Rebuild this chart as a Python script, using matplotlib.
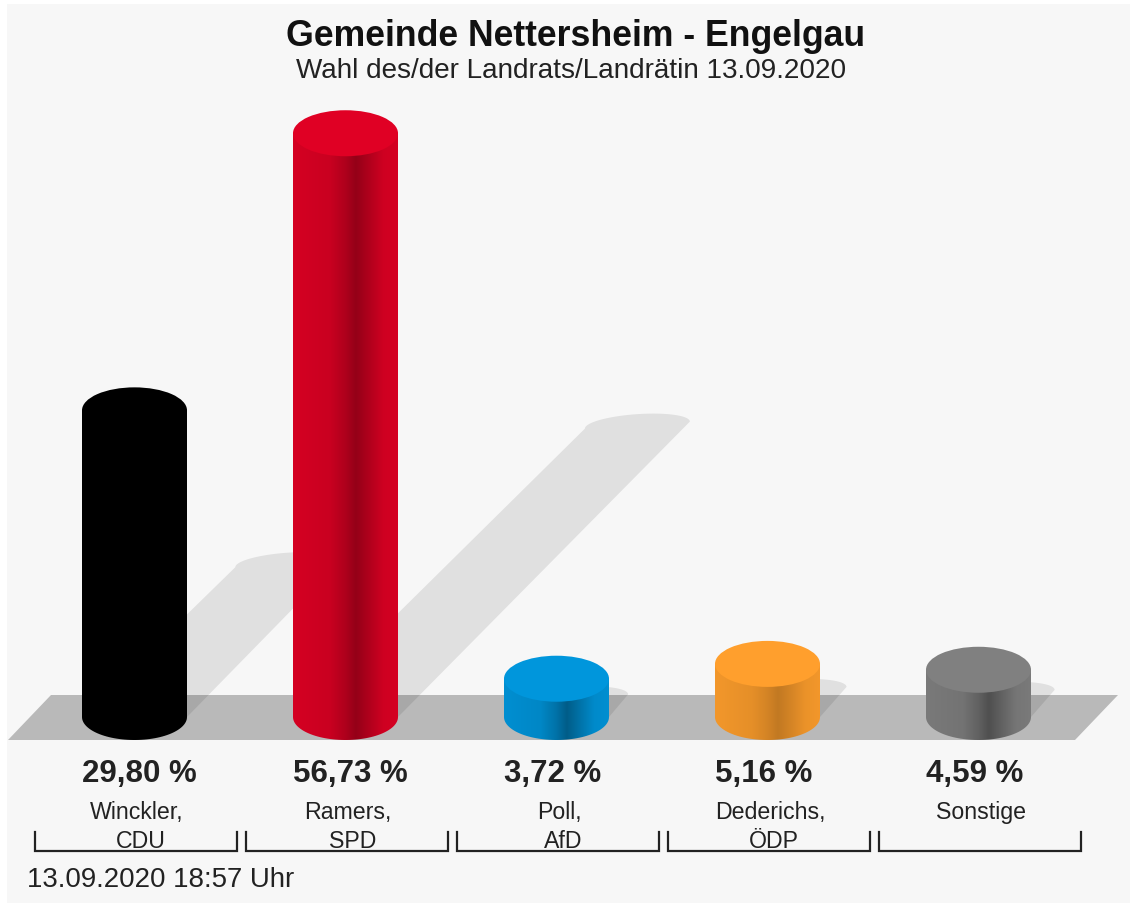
import numpy as np
import matplotlib
matplotlib.use("Agg")
import matplotlib.pyplot as plt
from matplotlib.colors import LinearSegmentedColormap, to_rgb
from matplotlib.patches import Polygon, Ellipse, PathPatch, Rectangle
from matplotlib.path import Path

title = "Gemeinde Nettersheim - Engelgau"
subtitle = "Wahl des/der Landrats/Landrätin 13.09.2020"
footer = "13.09.2020 18:57 Uhr"
names = ["Winckler,\nCDU", "Ramers,\nSPD", "Poll,\nAfD", "Dederichs,\nÖDP", "Sonstige\n"]
values = [29.80, 56.73, 3.72, 5.16, 4.59]
value_labels = ["29,80 %", "56,73 %", "3,72 %", "5,16 %", "4,59 %"]
top_colors = ["#000000", "#e00024", "#0096dc", "#ff9f2d", "#808080"]
dark_factors = [1.0, 0.66, 0.62, 0.76, 0.62]

W, H = 1133, 906
X0, DX, Y0, DY = 134.5, 211.0, 717.0, 10.29
plt.rcParams['font.family'] = ['Liberation Sans', 'DejaVu Sans']

fig = plt.figure(figsize=(W / 100, H / 100), dpi=100, facecolor="white")
ax = fig.add_axes([0, 0, 1, 1])
ax.axis("off")
xlim = ((0 - X0) / DX, (W - X0) / DX)
ylim = ((Y0 - H) / DY, Y0 / DY)


def px(x):
    return (x - X0) / DX


def py(y):
    return (Y0 - y) / DY


bw = 52.5 / DX          # half width of a column, in category units
eh = 23.0 / DY          # half height of the ellipse, in percent units
sh = 11.0 / DY          # half height of the shadow's cap
tilt = 3.5 / DY         # the shadow's cap rises slightly to the right

# panel
ax.add_patch(Rectangle((px(7), py(903)), px(1130) - px(7), py(4) - py(903), fc="#f7f7f7", ec="none", zorder=0))

# floor
ax.add_patch(Polygon([(px(8), py(740)), (px(51), py(695)), (px(1118), py(695)), (px(1075), py(740))],
                     closed=True, fc="#b9b9b9", ec="none", zorder=1))

# shadows
t = np.linspace(np.pi, 0, 60)
for i, v in enumerate(values):
    # a column's shadow leans right at 45 degrees and has half its height
    ox = (v * DY / 2) / DX
    oy = v / 2
    arc = np.column_stack([i + ox + bw * np.cos(t), oy + sh * np.sin(t) + tilt * np.cos(t)])
    pts = np.vstack([[i - bw, 0], arc, [i + bw, 0]])
    ax.add_patch(Polygon(pts, closed=True, fc="black", ec="none", alpha=0.09, zorder=2))

# columns
t2 = np.linspace(0, np.pi, 60)
for i, (v, c, d) in enumerate(zip(values, top_colors, dark_factors)):
    rgb = np.array(to_rgb(c))
    stops = [(0.0, 0.95), (0.35, 0.9), (0.5, (0.9 + d) / 2), (0.6, d), (0.72, (0.9 + d) / 2), (0.86, 0.92), (1.0, 0.95)]
    cmap = LinearSegmentedColormap.from_list("c", [(p, tuple(rgb * f)) for p, f in stops])
    im = ax.imshow(np.linspace(0, 1, 256)[None, :], extent=(i - bw, i + bw, -eh, v), cmap=cmap,
                   aspect="auto", interpolation="bilinear", zorder=3)
    outline = np.vstack([[i - bw, v], [i + bw, v],
                         np.column_stack([i + bw * np.cos(t2), -eh * np.sin(t2)])])
    clip = PathPatch(Path(np.vstack([outline, outline[0]]), closed=False), transform=ax.transData,
                     fc="none", ec="none")
    ax.add_patch(clip)
    im.set_clip_path(clip)
    ax.add_patch(Ellipse((i, v), 2 * bw, 2 * eh, fc=c, ec="none", zorder=4))

ax.set_xlim(*xlim)
ax.set_ylim(*ylim)

tc = "#222222"
ax.text(px(575.5), py(36), title, ha="center", va="center", fontsize=25.7, fontweight="bold", color="#111111", zorder=6)
ax.text(px(571), py(71), subtitle, ha="center", va="center", fontsize=20.1, color=tc, zorder=6)
ax.text(px(27), py(880), footer, ha="left", va="center", fontsize=19.9, color=tc, zorder=6)

for i, (n, lab) in enumerate(zip(names, value_labels)):
    ax.text(i - bw, py(774), lab, ha="left", va="center", fontsize=22.5, fontweight="bold", color=tc, zorder=6)
    a, b = n.split("\n")
    ax.text(i + 0.012, py(813), a, ha="center", va="center", fontsize=16.7, color=tc, zorder=6)
    if b:
        ax.text(i + 0.032, py(841), b, ha="center", va="center", fontsize=16.7, color=tc, zorder=6)
    l = 35 + 211 * i
    ax.plot([px(l), px(l), px(l + 202), px(l + 202)], [py(832), py(851), py(851), py(832)],
            color="#222222", lw=1.6, solid_joinstyle="miter", zorder=5)

fig.savefig("out.png", dpi=100, facecolor=fig.get_facecolor())
